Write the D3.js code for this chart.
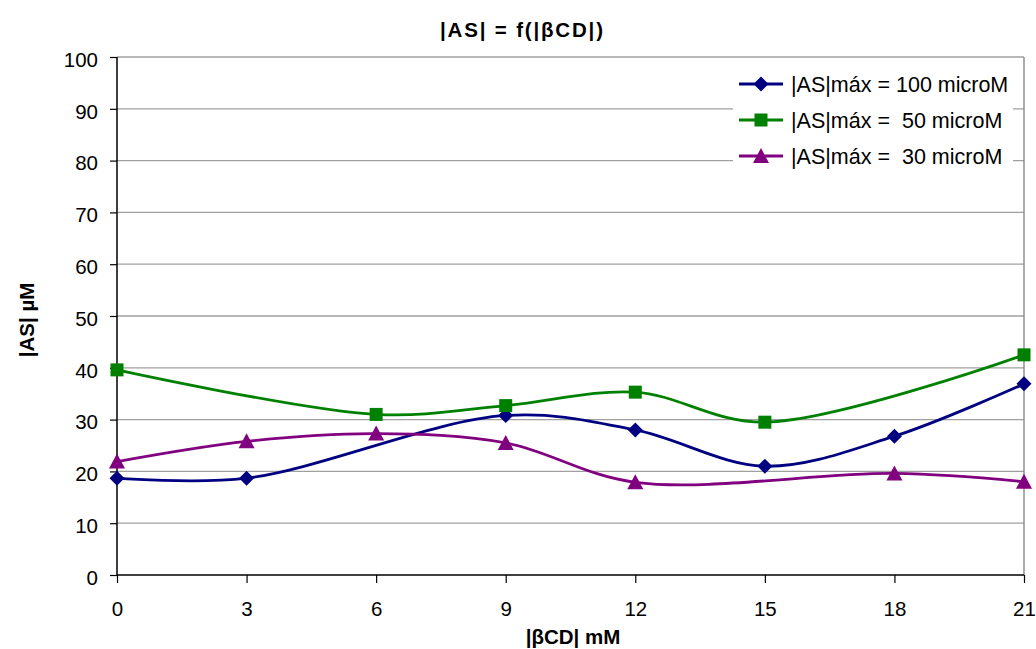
<!DOCTYPE html>
<html><head><meta charset="utf-8">
<script src="https://cdn.jsdelivr.net/npm/d3@7"></script>
<style>body{margin:0;background:#fff}svg{display:block;font-family:"Liberation Sans",Arial,sans-serif}</style>
</head><body><svg id="c" width="1036" height="649"></svg>
<script>
const title = "|AS| = f(|\u03B2CD|)";
const xTitle = "|\u03B2CD| mM";
const yTitle = "|AS| \u00B5M";
const xTicks = [0,3,6,9,12,15,18,21];
const yTicks = [0,10,20,30,40,50,60,70,80,90,100];
const seriesNames = ["|AS|m\u00E1x = 100 microM","|AS|m\u00E1x =  50 microM","|AS|m\u00E1x =  30 microM"];
const s100x = [0,3,9,12,15,18,21];
const s100y = [18.7,18.7,30.8,28.0,21.0,26.8,36.9];
const s50x = [0,6,9,12,15,21];
const s50y = [39.6,31.0,32.7,35.3,29.5,42.5];
const s30x = [0,3,6,9,12,18,21];
const s30y = [21.9,25.8,27.3,25.5,17.9,19.6,18.0];
const colors = ["#000080","#008000","#800080"];
const markerPaths = [
  "M0,-7.5L7.5,0L0,7.5L-7.5,0Z",
  "M-6.5,-6.5H6.5V6.5H-6.5Z",
  "M0,-8L8,7H-8Z"
];

const svg = d3.select("#c");
const L=117, R=1024, T=57, B=575;
const x = d3.scaleLinear().domain([0,21]).range([L,R]);
const y = d3.scaleLinear().domain([0,100]).range([B,T]);
const FS = 20.5;

// gridlines
svg.append("g").selectAll("line").data(yTicks.filter(d=>d>0)).join("line")
  .attr("x1",L).attr("x2",R).attr("y1",d=>y(d)).attr("y2",d=>y(d))
  .attr("stroke","#a0a0a0").attr("stroke-width",1.3);
// right border
svg.append("line").attr("x1",R).attr("x2",R).attr("y1",T).attr("y2",B).attr("stroke","#808080").attr("stroke-width",1.3);

// axes
const yAxis = svg.append("g").attr("transform",`translate(${L},0)`)
  .call(d3.axisLeft(y).tickValues(yTicks).tickSize(7).tickPadding(12));
const xAxis = svg.append("g").attr("transform",`translate(0,${B})`)
  .call(d3.axisBottom(x).tickValues(xTicks).tickSize(8).tickPadding(18));
[yAxis,xAxis].forEach(a=>{
  a.attr("font-size",FS).attr("font-family","Liberation Sans, Arial, sans-serif");
  a.select(".domain").attr("stroke","#000").attr("stroke-width",1.5);
  a.selectAll(".tick line").attr("stroke","#000").attr("stroke-width",1.2);
  a.selectAll("text").attr("fill","#000");
});
yAxis.selectAll("text").attr("dy","0.45em");
xAxis.selectAll("text").attr("y",41).attr("dy","0");
yAxis.select(".domain").attr("d",`M0,${B}V${T}`);
xAxis.select(".domain").attr("d",`M${L},0H${R}`);

// series
const data = [[s100x,s100y],[s50x,s50y],[s30x,s30y]];
const line = d3.line().x(d=>x(d[0])).y(d=>y(d[1])).curve(d3.curveCatmullRom.alpha(0.5));
data.forEach((s,i)=>{
  const pts = s[0].map((v,j)=>[v,s[1][j]]);
  svg.append("path").attr("d",line(pts)).attr("fill","none").attr("stroke",colors[i]).attr("stroke-width",2.8).attr("stroke-linejoin","round");
});
data.forEach((s,i)=>{
  const pts = s[0].map((v,j)=>[v,s[1][j]]);
  svg.append("g").selectAll("path").data(pts).join("path")
    .attr("transform",d=>`translate(${x(d[0])},${y(d[1])})`)
    .attr("d",markerPaths[i]).attr("fill",colors[i]);
});

// legend
const lg = svg.append("g");
lg.append("rect").attr("x",733).attr("y",66).attr("width",280).attr("height",108).attr("fill","#fff");
seriesNames.forEach((n,i)=>{
  const yy = 84 + i*36;
  lg.append("line").attr("x1",739).attr("x2",783).attr("y1",yy).attr("y2",yy).attr("stroke",colors[i]).attr("stroke-width",2.8);
  lg.append("path").attr("transform",`translate(761,${yy})`).attr("d",markerPaths[i]).attr("fill",colors[i]);
  lg.append("text").attr("x",791).attr("y",yy+7.5).attr("font-size",21.5).attr("fill","#000")
    .attr("xml:space","preserve").style("white-space","pre").text(n);
});

// titles
svg.append("text").attr("x",440).attr("y",37).attr("font-size",FS).attr("font-weight","bold")
  .attr("textLength",163).attr("lengthAdjust","spacing").text(title);
svg.append("text").attr("x",573).attr("y",644).attr("text-anchor","middle").attr("font-size",FS).attr("font-weight","bold").text(xTitle);
svg.append("text").attr("transform","translate(34,320) rotate(-90)").attr("text-anchor","middle").attr("font-size",FS).attr("font-weight","bold").text(yTitle);
</script></body></html>
